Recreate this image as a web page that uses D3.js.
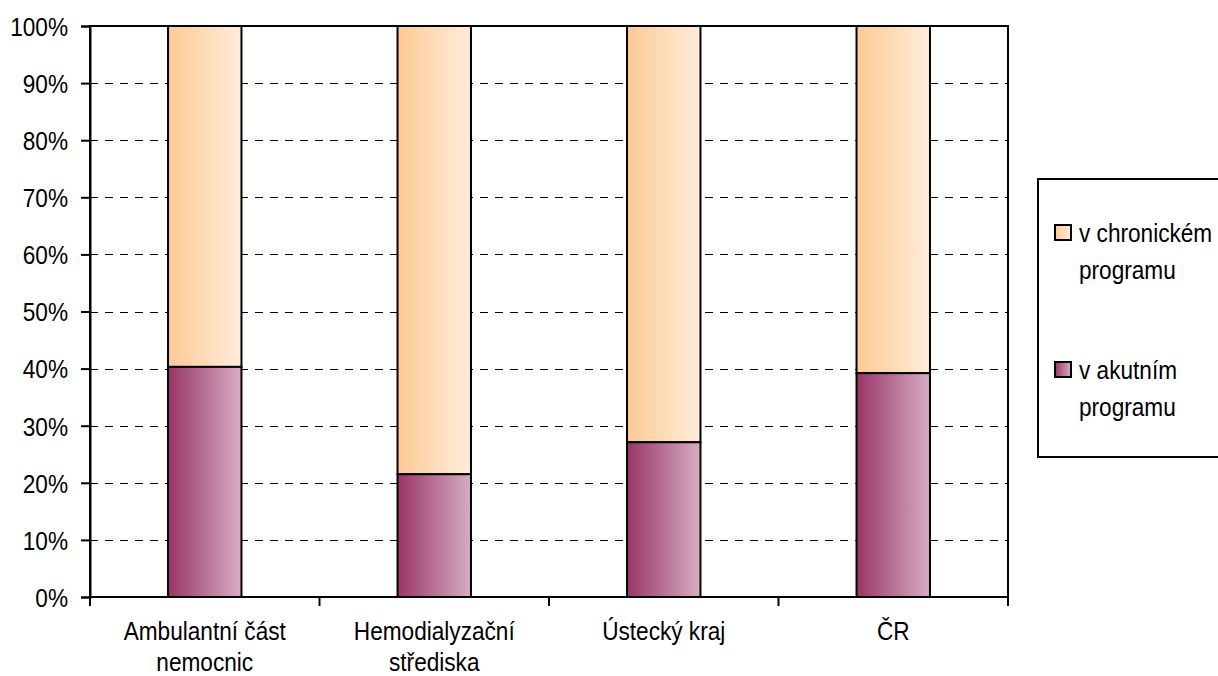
<!DOCTYPE html>
<html><head><meta charset="utf-8">
<script src="https://cdn.jsdelivr.net/npm/d3@7"></script>
<style>
body{margin:0;background:#fff;}
svg text{font-family:"Liberation Sans Narrow","Arial Narrow","Liberation Sans",sans-serif;fill:#000;}
</style></head>
<body><svg id="c" width="1218" height="676"></svg>
<script>
const categories = [["Ambulantní část","nemocnic"],["Hemodialyzační","střediska"],["Ústecký kraj"],["ČR"]];
const acute = [40.3, 21.5, 27.1, 39.2];
const chronic = acute.map(v => 100 - v);
const seriesNames = [["v chronickém","programu"],["v akutním","programu"]];
const yTicks = [0,10,20,30,40,50,60,70,80,90,100];

const SX = 0.87, FS = "26px";
const svg = d3.select("#c");
const L=90, R=1008, T=26, B=597;
const x = d3.scaleBand().domain(d3.range(categories.length)).range([L,R]).paddingInner(0.68).paddingOuter(0.34);
const y = d3.scaleLinear().domain([0,100]).range([B,T]);

const defs = svg.append("defs");
function grad(id, c1, c2){
  const g = defs.append("linearGradient").attr("id",id).attr("x1","0%").attr("x2","100%").attr("y1","0%").attr("y2","0%");
  g.append("stop").attr("offset","0%").attr("stop-color",c1);
  g.append("stop").attr("offset","100%").attr("stop-color",c2);
}
grad("gChron","#FEC994","#FFEDDB");
grad("gAcu","#983566","#D8ADC4");

function ctext(sel, px, py){
  return sel.append("text").attr("transform",`translate(${px},${py}) scale(${SX},1)`).style("font-size",FS);
}

// gridlines
svg.append("g").selectAll("line").data(yTicks.filter(t=>t>0&&t<100)).join("line")
  .attr("x1",L).attr("x2",R).attr("y1",d=>Math.round(y(d))+0.5).attr("y2",d=>Math.round(y(d))+0.5)
  .attr("stroke","#000").attr("stroke-width",1).attr("stroke-dasharray","8,7");

// bars
const g = svg.append("g");
categories.forEach((c,i)=>{
  g.append("rect").attr("x",x(i)).attr("width",x.bandwidth()).attr("y",y(100)).attr("height",y(acute[i])-y(100))
    .attr("fill","url(#gChron)").attr("stroke","#000").attr("stroke-width",2);
  g.append("rect").attr("x",x(i)).attr("width",x.bandwidth()).attr("y",y(acute[i])).attr("height",y(0)-y(acute[i]))
    .attr("fill","url(#gAcu)").attr("stroke","#000").attr("stroke-width",2);
});

// plot border
svg.append("rect").attr("x",L).attr("y",T).attr("width",R-L).attr("height",B-T)
  .attr("fill","none").attr("stroke","#000").attr("stroke-width",2);

// y axis
const ya = svg.append("g").attr("transform",`translate(${L},0)`)
  .call(d3.axisLeft(y).tickValues(yTicks).tickFormat(d=>d+"%").tickSize(9).tickPadding(12));
ya.select(".domain").attr("stroke-width",2);
ya.selectAll(".tick line").attr("stroke-width",2);
ya.selectAll("text").style("font-size",FS).attr("dy","0.36em")
  .attr("transform",`scale(${SX},1)`).attr("x",-22/SX).attr("fill","#000");

// x axis ticks at boundaries
const bounds = d3.range(categories.length+1).map(i=>L+(R-L)*i/categories.length);
svg.append("g").selectAll("line").data(bounds).join("line")
  .attr("x1",d=>d).attr("x2",d=>d).attr("y1",B).attr("y2",B+9).attr("stroke","#000").attr("stroke-width",2);
const xl = svg.append("g");
categories.forEach((c,i)=>{
  const t = ctext(xl, x(i)+x.bandwidth()/2, B+43).attr("text-anchor","middle");
  c.forEach((line,j)=>t.append("tspan").attr("x",0).attr("dy",j?31:0).text(line));
});

// legend
const lg = svg.append("g");
lg.append("rect").attr("x",1038).attr("y",179).attr("width",200).attr("height",278).attr("fill","#fff").attr("stroke","#000").attr("stroke-width",2);
const fills = ["url(#gChron)","url(#gAcu)"];
const ly = [225, 362];
seriesNames.forEach((n,i)=>{
  lg.append("rect").attr("x",1055).attr("y",ly[i]).attr("width",16).attr("height",15).attr("fill",fills[i]).attr("stroke","#000").attr("stroke-width",2);
  const t = ctext(lg, 1079, ly[i]+17);
  n.forEach((line,j)=>t.append("tspan").attr("x",0).attr("dy",j?37:0).text(line));
});
</script></body></html>
